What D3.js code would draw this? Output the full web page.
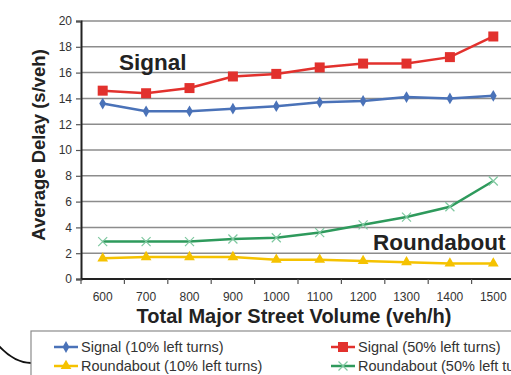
<!DOCTYPE html>
<html>
<head>
<meta charset="utf-8">
<script src="https://cdn.jsdelivr.net/npm/d3@7"></script>
<style>
  body { margin: 0; background: #fff; }
  svg { display: block; font-family: "Liberation Sans", Arial, sans-serif; }
</style>
</head>
<body>
<div id="chart"></div>
<script>
// data
const volumes = [600, 700, 800, 900, 1000, 1100, 1200, 1300, 1400, 1500];
const signal10 = [13.6, 13.0, 13.0, 13.2, 13.4, 13.7, 13.8, 14.1, 14.0, 14.2];
const signal50 = [14.6, 14.4, 14.8, 15.7, 15.9, 16.4, 16.7, 16.7, 17.2, 18.8];
const round10 = [1.6, 1.7, 1.7, 1.7, 1.5, 1.5, 1.4, 1.3, 1.2, 1.2];
const round50 = [2.9, 2.9, 2.9, 3.1, 3.2, 3.6, 4.2, 4.8, 5.6, 7.6];
const yTicks = [0, 2, 4, 6, 8, 10, 12, 14, 16, 18, 20];

const series = [
    {name: "Signal (10% left turns)", values: signal10, color: "#4a72b8", marker: "diamond"},
    {name: "Signal (50% left turns)", values: signal50, color: "#e2312d", marker: "square"},
    {name: "Roundabout (10% left turns)", values: round10, color: "#f5c200", marker: "triangle"},
    {name: "Roundabout (50% left turns)", values: round50, color: "#2e9a5c", marker: "cross"}
];

const width = 511, height = 375;
const margin = {top: 21, right: -4, bottom: 96, left: 81};

const svg = d3.select("#chart").append("svg")
    .attr("width", width)
    .attr("height", height);

const x = d3.scaleBand()
    .domain(volumes)
    .range([margin.left, width - margin.right]);

const y = d3.scaleLinear()
    .domain([0, 20])
    .range([height - margin.bottom, margin.top]);

// gridlines
svg.append("g")
    .selectAll("line")
    .data(yTicks.filter(d => d > 0))
    .join("line")
    .attr("x1", margin.left)
    .attr("x2", width - margin.right)
    .attr("y1", d => y(d))
    .attr("y2", d => y(d))
    .attr("stroke", "#8c8c8c")
    .attr("stroke-width", 1.5);

// y axis
const yAxis = svg.append("g")
    .attr("transform", "translate(" + margin.left + ",0)")
    .call(d3.axisLeft(y).tickValues(yTicks).tickSize(5).tickPadding(4));
yAxis.select(".domain").attr("stroke", "#222").attr("stroke-width", 2);
yAxis.selectAll(".tick line").attr("stroke", "#555").attr("stroke-width", 1.2);
yAxis.selectAll("text").attr("font-size", 12).attr("fill", "#333")
    .attr("font-family", "'Liberation Sans', Arial, sans-serif");

// x axis (ticks between categories)
const xAxis = svg.append("g")
    .attr("transform", "translate(0," + y(0) + ")");
xAxis.append("line")
    .attr("x1", margin.left).attr("x2", width)
    .attr("stroke", "#222").attr("stroke-width", 2);
xAxis.selectAll(".tk")
    .data(volumes)
    .join("line")
    .attr("class", "tk")
    .attr("x1", d => x(d)).attr("x2", d => x(d))
    .attr("y1", 0).attr("y2", 5)
    .attr("stroke", "#555").attr("stroke-width", 1.2);
xAxis.selectAll("text")
    .data(volumes)
    .join("text")
    .attr("x", d => x(d) + x.bandwidth() / 2)
    .attr("y", 21.5)
    .attr("text-anchor", "middle")
    .attr("font-size", 12)
    .attr("fill", "#333")
    .text(d => d);

// marker shapes
function drawMarker(g, type, color, cx, cy) {
    if (type === "diamond") {
        g.append("path")
            .attr("d", d3.symbol(d3.symbolDiamond, 40)())
            .attr("transform", "translate(" + cx + "," + cy + ")")
            .attr("fill", color);
    } else if (type === "square") {
        g.append("rect")
            .attr("x", cx - 5).attr("y", cy - 5)
            .attr("width", 10).attr("height", 10)
            .attr("fill", color);
    } else if (type === "triangle") {
        g.append("path")
            .attr("d", d3.symbol(d3.symbolTriangle, 50)())
            .attr("transform", "translate(" + cx + "," + cy + ")")
            .attr("fill", color);
    } else {
        g.append("path")
            .attr("d", "M-4.5,-4.5L4.5,4.5M-4.5,4.5L4.5,-4.5")
            .attr("transform", "translate(" + cx + "," + cy + ")")
            .attr("stroke", "#7fc8a0")
            .attr("stroke-width", 1.2)
            .attr("fill", "none");
    }
}

const line = d3.line()
    .x((d, i) => x(volumes[i]) + x.bandwidth() / 2)
    .y(d => y(d));

series.forEach(s => {
    const g = svg.append("g");
    g.append("path")
        .datum(s.values)
        .attr("d", line)
        .attr("fill", "none")
        .attr("stroke", s.color)
        .attr("stroke-width", 2.5);
    s.values.forEach((v, i) => {
        drawMarker(g, s.marker, s.color, x(volumes[i]) + x.bandwidth() / 2, y(v));
    });
});

// annotations
svg.append("text")
    .attr("x", 119).attr("y", 70)
    .attr("font-size", 22.5).attr("font-weight", "bold").attr("fill", "#222")
    .text("Signal");
svg.append("text")
    .attr("x", 373).attr("y", 250)
    .attr("font-size", 22.5).attr("font-weight", "bold").attr("fill", "#222")
    .text("Roundabout");

// axis titles
svg.append("text")
    .attr("transform", "translate(45,145) rotate(-90)")
    .attr("text-anchor", "middle")
    .attr("font-size", 18.5).attr("font-weight", "bold").attr("fill", "#222")
    .text("Average Delay (s/veh)");
svg.append("text")
    .attr("x", 294).attr("y", 323)
    .attr("text-anchor", "middle")
    .attr("font-size", 20).attr("font-weight", "bold").attr("fill", "#222")
    .text("Total Major Street Volume (veh/h)");

// legend
svg.append("path")
    .attr("d", "M-2,345 C8,356 18,363 31,363")
    .attr("fill", "none")
    .attr("stroke", "#111")
    .attr("stroke-width", 2);
svg.append("rect")
    .attr("x", 31).attr("y", 331)
    .attr("width", 520).attr("height", 60)
    .attr("fill", "#fff")
    .attr("stroke", "#8c8c8c")
    .attr("stroke-width", 1.2);

const legendPos = [[54, 347], [331, 347], [54, 366], [331, 366]];
series.forEach((s, i) => {
    const [lx, ly] = legendPos[i];
    const g = svg.append("g");
    g.append("line")
        .attr("x1", lx).attr("x2", lx + 24)
        .attr("y1", ly).attr("y2", ly)
        .attr("stroke", s.color).attr("stroke-width", 2.5);
    drawMarker(g, s.marker, s.color, lx + 12, ly);
    g.append("text")
        .attr("x", lx + 27).attr("y", ly + 5)
        .attr("font-size", 14.5).attr("fill", "#333")
        .text(s.name);
});
</script>
</body>
</html>
